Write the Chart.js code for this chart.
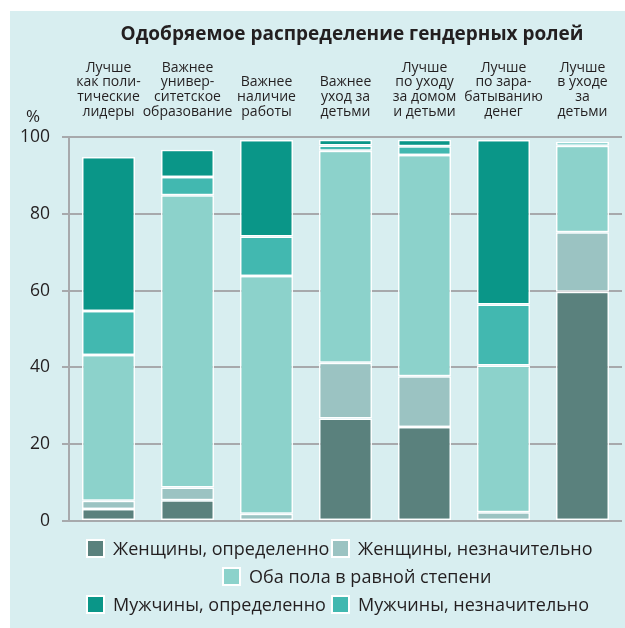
<!DOCTYPE html>
<html>
<head>
<meta charset="utf-8">
<script src="https://cdn.jsdelivr.net/npm/chart.js@4.4.1/dist/chart.umd.min.js"></script>
<style>
  html, body { margin: 0; padding: 0; background: #fff; }
  #wrap { position: relative; width: 625px; height: 628px; overflow: hidden; font-family: "Open Sans", sans-serif; color: #231f20; }
  #panel { position: absolute; left: 10px; top: 11px; right: 0; bottom: 0; background: #d8eef0; }
  #chart { position: absolute; left: 0; top: 0; }
  #title { position: absolute; left: 112px; width: 480px; top: 24px; font-size: 19px; line-height: 19px; font-weight: bold; text-align: center; white-space: nowrap; }
  #pct { position: absolute; left: 26px; top: 107px; font-size: 17px; line-height: 17px; }
  .item { position: absolute; height: 20px; display: flex; align-items: center; font-size: 18px; white-space: nowrap; }
  .sw { width: 19px; height: 19px; box-sizing: border-box; border: 2px solid #fff; margin-right: 8px; }
</style>
</head>
<body>
<div id="wrap">
  <div id="panel"></div>
  <canvas id="chart" width="625" height="628"></canvas>
  <div id="title">Одобряемое распределение гендерных ролей</div>
  <div id="pct">%</div>
  <div id="legend"></div>
</div>
<script>
/* ========================================
   DATA
======================================== */

const categories = [
  ["Лучше", "как поли-", "тические", "лидеры"],
  ["Важнее", "универ-", "ситетское", "образование"],
  ["Важнее", "наличие", "работы"],
  ["Важнее", "уход за", "детьми"],
  ["Лучше", "по уходу", "за домом", "и детьми"],
  ["Лучше", "по зара-", "батыванию", "денег"],
  ["Лучше", "в уходе", "за", "детьми"]
];

const seriesNames = [
  "Женщины, определенно",
  "Женщины, незначительно",
  "Оба пола в равной степени",
  "Мужчины, незначительно",
  "Мужчины, определенно"
];

const womenDefinitely = [3.1, 5.4, 0, 26.7, 24.5, 0, 59.7];
const womenSlightly   = [2.2, 3.3, 1.9, 14.5, 13.2, 2.3, 15.5];
const bothEqually     = [37.9, 76.1, 61.9, 55.2, 57.6, 38.2, 22.5];
const menSlightly     = [11.5, 4.8, 10.3, 1.4, 2.3, 15.9, 1.0];
const menDefinitely   = [40.1, 7.1, 25.1, 1.5, 1.7, 42.8, 0];

const yTicks = [0, 20, 40, 60, 80, 100];

/* ========================================
   STYLE
======================================== */

const colors = ["#5a817d", "#9bc3c2", "#8cd2cb", "#42b8b0", "#0a9688"];
const series = [womenDefinitely, womenSlightly, bothEqually, menSlightly, menDefinitely];

// legend order + spots (index into seriesNames)
const legendSpots = [
  { i: 0, x: 86, y: 538 },
  { i: 1, x: 331, y: 538 },
  { i: 2, x: 222, y: 566 },
  { i: 4, x: 86, y: 594 },
  { i: 3, x: 331, y: 594 }
];

const FONT = '"Open Sans", sans-serif';
const INK = "#231f20";
const GRID = "#a7a9ac";

/* ========================================
   CHART
======================================== */

new Chart(document.getElementById("chart"), {
  type: "bar",
  data: {
    labels: categories,
    datasets: series.map((vals, k) => ({
      label: seriesNames[k],
      data: vals,
      backgroundColor: colors[k],
      borderColor: "#ffffff",
      borderWidth: 1.5,
      borderSkipped: false,
      barPercentage: 0.67,
      categoryPercentage: 1
    }))
  },
  options: {
    responsive: false,
    devicePixelRatio: 1,
    animation: false,
    layout: { padding: { left: 0, right: 3, top: 0, bottom: 107 } },
    plugins: {
      legend: { display: false },
      title: { display: false },
      tooltip: { enabled: false }
    },
    scales: {
      x: {
        position: "top",
        stacked: true,
        grid: { display: false },
        border: { display: false },
        ticks: {
          color: INK,
          font: { family: FONT, size: 14, lineHeight: 1.05 },
          padding: 10,
          maxRotation: 0,
          autoSkip: false
        },
        afterFit: s => { s.height = 137; }
      },
      y: {
        stacked: true,
        min: 0,
        max: 100,
        afterBuildTicks: s => { s.ticks = yTicks.map(v => ({ value: v })); },
        grid: { color: GRID, lineWidth: 2, tickLength: 7 },
        border: { color: GRID, width: 2 },
        ticks: {
          color: INK,
          font: { family: FONT, size: 17.5 },
          padding: 12
        },
        afterFit: s => { s.width = 69; }
      }
    }
  }
});

/* ========================================
   LEGEND (html)
======================================== */

const legend = document.getElementById("legend");
legendSpots.forEach(p => {
  const el = document.createElement("div");
  el.className = "item";
  el.style.left = p.x + "px";
  el.style.top = p.y + "px";
  el.innerHTML = `<span class="sw" style="background:${colors[p.i]}"></span>${seriesNames[p.i]}`;
  legend.appendChild(el);
});
</script>
</body>
</html>
